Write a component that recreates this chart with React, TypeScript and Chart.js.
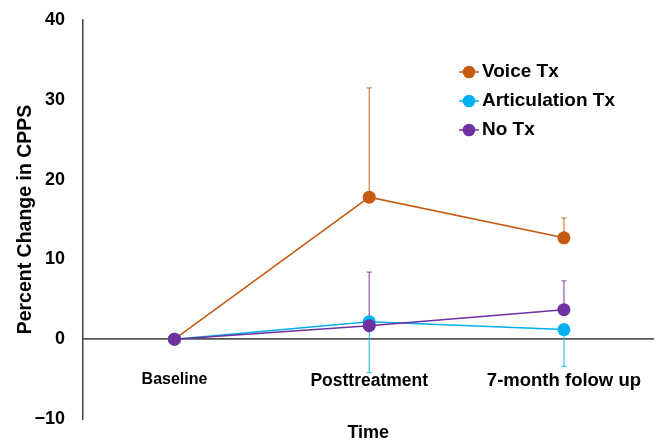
import React, { useEffect, useRef } from 'react';
import { Chart, registerables } from 'chart.js';

Chart.register(...registerables);

// ---- data ----
const categories = ['Baseline', 'Posttreatment', '7-month folow up'];
const xPositions = [0, 1, 2];
const yTicks = [-10, 0, 10, 20, 30, 40];
const seriesNames = ['Voice Tx', 'Articulation Tx', 'No Tx'];
const voiceTx = [0, 17.8, 12.7];
const voicePlus = [0, 13.7, 2.5];
const articulationTx = [0, 2.2, 1.2];
const articulationMinus = [0, 6.4, 4.6];
const noTx = [0, 1.7, 3.7];
const noTxPlus = [0, 6.7, 3.6];

// ---- styles ----
const colors = ['#C55A11', '#00B0F0', '#7030A0'];
const errColors = ['rgba(197,90,17,0.75)', 'rgba(0,176,240,0.75)', 'rgba(112,48,160,0.75)'];
const xTickFontSizes = [16, 17.5, 18.5];
const FONT = '"Liberation Sans", Arial, Helvetica, sans-serif';

function makeLegendImg(color: string) {
  const c = document.createElement('canvas');
  c.width = 20;
  c.height = 14;
  const g = c.getContext('2d')!;
  g.strokeStyle = color;
  g.lineWidth = 1.5;
  g.beginPath();
  g.moveTo(0, 7);
  g.lineTo(20, 7);
  g.stroke();
  g.fillStyle = color;
  g.beginPath();
  g.arc(10, 7, 6.3, 0, Math.PI * 2);
  g.fill();
  return c;
}

const errorBarPlugin = {
  id: 'errorBars',
  beforeDatasetsDraw(chart: any) {
    const { ctx } = chart;
    const xs = chart.scales.x;
    const ys = chart.scales.y;
    chart.data.datasets.forEach((ds: any) => {
      const plus: number[] | undefined = ds.errPlus;
      const minus: number[] | undefined = ds.errMinus;
      ds.data.forEach((pt: any, i: number) => {
        const px = xs.getPixelForValue(pt.x);
        const py = ys.getPixelForValue(pt.y);
        const ends: number[] = [];
        if (plus && plus[i]) ends.push(ys.getPixelForValue(pt.y + plus[i]));
        if (minus && minus[i]) ends.push(ys.getPixelForValue(pt.y - minus[i]));
        ends.forEach((ey) => {
          ctx.save();
          ctx.strokeStyle = ds.errColor;
          ctx.lineWidth = 1.25;
          ctx.beginPath();
          ctx.moveTo(px, py);
          ctx.lineTo(px, ey);
          ctx.moveTo(px - 2.5, ey);
          ctx.lineTo(px + 2.5, ey);
          ctx.stroke();
          ctx.restore();
        });
      });
    });
  },
};

const placeLegendPlugin = {
  id: 'placeLegend',
  afterLayout(chart: any) {
    const l = chart.legend;
    if (!l) return;
    const w = l.width;
    const h = l.height;
    l.left = 455.5;
    l.top = 52.5;
    l.right = l.left + w;
    l.bottom = l.top + h;
  },
};

const zeroPaddings = (axis: any) => {
  axis.paddingTop = 0;
  axis.paddingBottom = 0;
  axis.paddingLeft = 0;
  axis.paddingRight = 0;
};

export default function App() {
  const canvasRef = useRef<HTMLCanvasElement>(null);

  useEffect(() => {
    document.body.style.margin = '0';
    if (!canvasRef.current) return;
    Chart.defaults.font.family = FONT;
    const legendImgs = colors.map(makeLegendImg);
    const toPts = (arr: number[]) => xPositions.map((x, i) => ({ x, y: arr[i] }));

    const seriesData = [voiceTx, articulationTx, noTx];
    const plusData = [voicePlus, undefined, noTxPlus];
    const minusData = [undefined, articulationMinus, undefined];
    const orders = [2, 1, 0];

    const datasets = seriesNames.map((name, i) => ({
      label: name,
      data: toPts(seriesData[i]),
      borderColor: colors[i],
      backgroundColor: colors[i],
      pointBackgroundColor: colors[i],
      pointBorderColor: colors[i],
      pointBorderWidth: 0,
      pointRadius: 6.5,
      pointHoverRadius: 6.5,
      borderWidth: 1.5,
      tension: 0,
      fill: false,
      order: orders[i],
      errPlus: plusData[i],
      errMinus: minusData[i],
      errColor: errColors[i],
    }));

    const chart = new Chart(canvasRef.current, {
      type: 'line',
      data: { datasets: datasets as any },
      options: {
        animation: false,
        responsive: true,
        maintainAspectRatio: false,
        layout: { padding: { top: 20, right: 5, bottom: 24, left: 0 } },
        scales: {
          x: {
            type: 'linear',
            min: -0.47,
            max: 2.46,
            position: { y: 0 } as any,
            afterBuildTicks: (axis: any) => {
              axis.ticks = xPositions.map((v) => ({ value: v }));
            },
            afterFit: (axis: any) => {
              axis.height = 24;
              zeroPaddings(axis);
            },
            grid: { display: false, drawTicks: false },
            border: { display: true, color: '#555555', width: 1.75 },
            ticks: {
              padding: 31,
              color: '#000',
              autoSkip: false,
              maxRotation: 0,
              font: ((ctx: any) => ({ size: xTickFontSizes[ctx.index] ?? 17.5, weight: 'bold', family: FONT })) as any,
              callback: (v: any) => categories[v as number] ?? '',
            },
            title: {
              display: true,
              text: 'Time',
              color: '#000',
              font: { size: 18, weight: 'bold', family: FONT },
              padding: { top: 0, bottom: -81 },
            },
          },
          y: {
            type: 'linear',
            min: -10,
            max: 40,
            afterBuildTicks: (axis: any) => {
              axis.ticks = yTicks.map((v) => ({ value: v }));
            },
            afterFit: (axis: any) => {
              axis.width = 83;
              zeroPaddings(axis);
            },
            grid: { display: false, drawTicks: false },
            border: { display: true, color: '#404040', width: 1.5 },
            ticks: {
              padding: 18,
              color: '#000',
              font: { size: 18, weight: 'bold', family: FONT },
              callback: (v: any) => (v < 0 ? '\u2212' + Math.abs(v) : String(v)),
            },
            title: {
              display: true,
              text: 'Percent Change in CPPS',
              color: '#000',
              font: { size: 19.5, weight: 'bold', family: FONT },
              padding: { top: 14, bottom: 0 },
            },
          },
        },
        plugins: {
          tooltip: { enabled: false },
          legend: {
            position: 'chartArea' as any,
            align: 'start',
            labels: {
              usePointStyle: true,
              pointStyleWidth: 7,
              padding: 10,
              color: '#000',
              font: { size: 19, weight: 'bold', family: FONT },
              generateLabels: () =>
                seriesNames.map((name, i) => ({
                  text: name,
                  pointStyle: legendImgs[i] as any,
                  fillStyle: colors[i],
                  strokeStyle: colors[i],
                  lineWidth: 0,
                  hidden: false,
                  datasetIndex: i,
                  fontColor: '#000',
                })),
            },
          },
        },
      },
      plugins: [errorBarPlugin, placeLegendPlugin],
    });
    return () => chart.destroy();
  }, []);

  return (
    <div style={{ position: 'relative', width: 660, height: 443 }}>
      <canvas ref={canvasRef} />
    </div>
  );
}
